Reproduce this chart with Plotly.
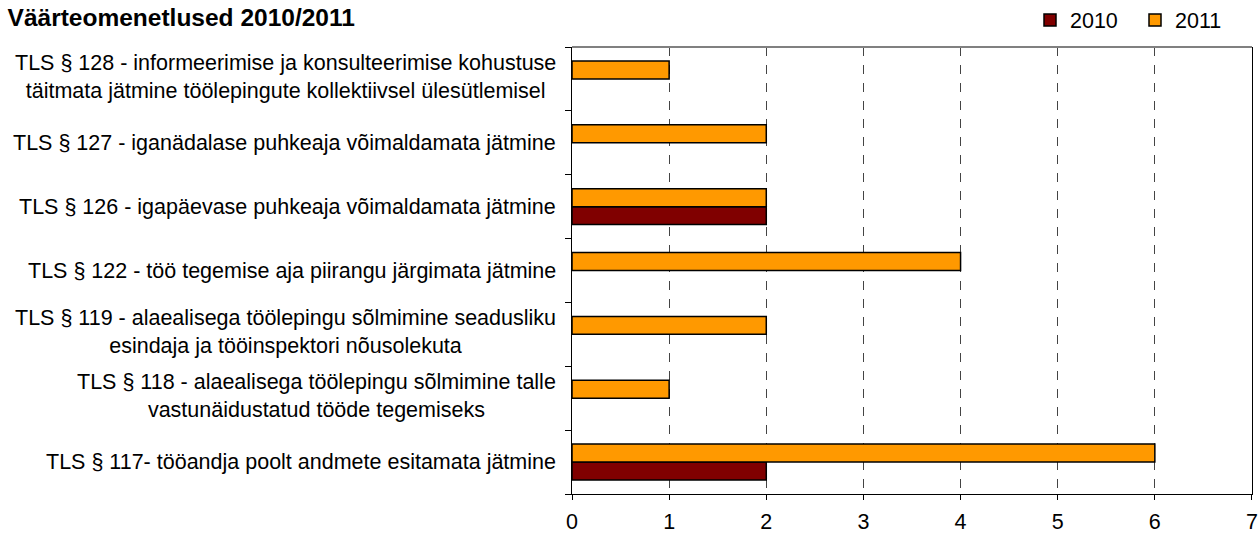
import plotly.graph_objects as go

# categories, bottom to top
categories = ['§117', '§118', '§119', '§122', '§126', '§127', '§128']
labels = [
    'TLS § 117- tööandja poolt andmete esitamata jätmine',
    'TLS § 118 - alaealisega töölepingu sõlmimine talle<br>vastunäidustatud tööde tegemiseks',
    'TLS § 119 - alaealisega töölepingu sõlmimine seadusliku<br>esindaja ja tööinspektori nõusolekuta',
    'TLS § 122 - töö tegemise aja piirangu järgimata jätmine',
    'TLS § 126 - igapäevase puhkeaja võimaldamata jätmine',
    'TLS § 127 - iganädalase puhkeaja võimaldamata jätmine',
    'TLS § 128 - informeerimise ja konsulteerimise kohustuse<br>täitmata jätmine töölepingute kollektiivsel ülesütlemisel',
]
values_2010 = [2, None, None, None, 2, None, None]
values_2011 = [6, 1, 2, 4, 2, 2, 1]
x_ticks = [0, 1, 2, 3, 4, 5, 6, 7]

FONT = 'Liberation Sans, Arial, sans-serif'

fig = go.Figure()
fig.add_trace(go.Bar(
    y=categories, x=values_2010, name='2010', orientation='h',
    marker=dict(color='#800000', line=dict(color='black', width=1.5)),
))
fig.add_trace(go.Bar(
    y=categories, x=values_2011, name='2011', orientation='h',
    marker=dict(color='#FF9900', line=dict(color='black', width=1.5)),
))

# category labels, centred lines to the left of the axis
for cat, text in zip(categories, labels):
    fig.add_annotation(x=0, xref='paper', y=cat, yref='y', text=text,
                       xanchor='right', align='center', showarrow=False,
                       xshift=-14, yshift=2 if '<br>' in text else 0)

# grey top border
fig.add_shape(type='line', xref='paper', yref='paper', x0=0, x1=1, y0=1, y1=1,
              line=dict(color='#808080', width=2))

fig.update_layout(
    width=1259, height=533,
    margin=dict(l=572, r=7, t=47, b=39),
    paper_bgcolor='white', plot_bgcolor='white',
    font=dict(family=FONT, size=21.5, color='black'),
    title=dict(text='<b>Väärteomenetlused 2010/2011</b>', x=0.006, xanchor='left',
               y=0.967, yanchor='middle', font=dict(size=24.5)),
    barmode='group', bargap=0.437, bargroupgap=0,
    showlegend=True,
    legend=dict(orientation='h', x=1030 / 1259, xanchor='left', y=1 - 20 / 533,
                yanchor='middle', xref='container', yref='container',
                entrywidth=60, entrywidthmode='pixels', font=dict(size=21.5),
                traceorder='normal'),
    xaxis=dict(range=[0, 7.0001], tickvals=x_ticks, ticks='outside', ticklen=5,
               tickcolor='black', showline=True, linecolor='black', linewidth=1,
               showgrid=True, gridcolor='#444444', griddash='dash', gridwidth=1,
               zeroline=False, ticklabelstandoff=3, automargin=False),
    yaxis=dict(type='category', categoryorder='array', categoryarray=categories,
               range=[-0.5, 6.5], ticks='outside', tickson='boundaries', ticklen=6,
               tickcolor='black', showticklabels=False, showline=True,
               mirror=True, linecolor='black', linewidth=1, showgrid=False,
               automargin=False),
)

# drop the default page margin so the figure fills the window
fig.write_html('out.html', config={'displayModeBar': False},
               post_script="document.body.style.margin='0';")
